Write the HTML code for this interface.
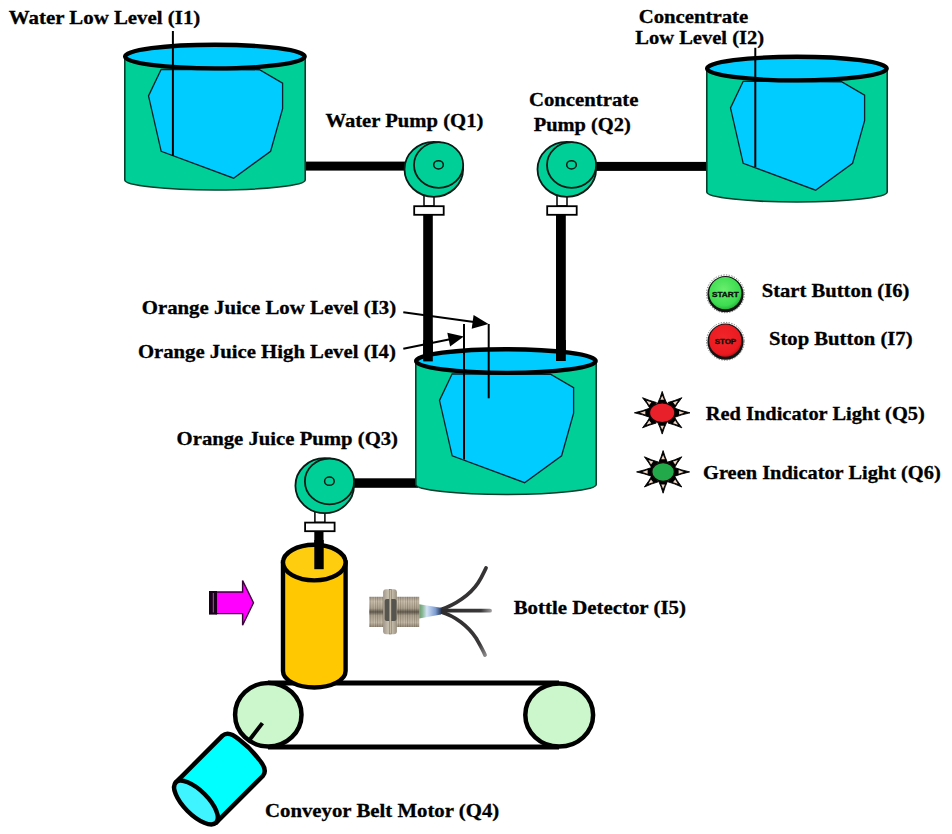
<!DOCTYPE html><html><head><meta charset="utf-8"><style>html,body{margin:0;padding:0;background:#fff;}svg{display:block}</style></head><body>
<svg width="952" height="834" viewBox="0 0 952 834">
<defs><linearGradient id="metal" x1="0" y1="0" x2="0" y2="1"><stop offset="0" stop-color="#9c9080"/><stop offset="0.15" stop-color="#c8bca8"/><stop offset="0.38" stop-color="#a89c88"/><stop offset="0.5" stop-color="#564e42"/><stop offset="0.62" stop-color="#a89c88"/><stop offset="0.85" stop-color="#c2b6a2"/><stop offset="1" stop-color="#8c8070"/></linearGradient><pattern id="thread" x="0" y="0" width="2.3" height="40" patternUnits="userSpaceOnUse"><rect x="0" y="0" width="1" height="40" fill="#5a5040" fill-opacity="0.3"/><rect x="1.2" y="0" width="0.8" height="40" fill="#fff" fill-opacity="0.15"/></pattern><linearGradient id="nut" x1="0" y1="0" x2="1" y2="0"><stop offset="0" stop-color="#a0968a"/><stop offset="0.5" stop-color="#d6cebe"/><stop offset="1" stop-color="#9a9080"/></linearGradient><linearGradient id="glass" x1="0" y1="0" x2="1" y2="0"><stop offset="0" stop-color="#6a9a6a"/><stop offset="0.15" stop-color="#8ab898"/><stop offset="0.35" stop-color="#d4e4f6"/><stop offset="0.75" stop-color="#7a9ad0"/><stop offset="1" stop-color="#2a3a5a"/></linearGradient><radialGradient id="gbtn" cx="0.45" cy="0.4" r="0.65"><stop offset="0" stop-color="#6aee6e"/><stop offset="0.75" stop-color="#3cdc50"/><stop offset="1" stop-color="#22a834"/></radialGradient><radialGradient id="rbtn" cx="0.45" cy="0.4" r="0.65"><stop offset="0" stop-color="#f2252a"/><stop offset="0.8" stop-color="#ea1a20"/><stop offset="1" stop-color="#b00a10"/></radialGradient><linearGradient id="cabU" gradientUnits="userSpaceOnUse" x1="441" y1="610" x2="486" y2="567"><stop offset="0" stop-color="#2e2c2c"/><stop offset="0.8" stop-color="#3a3838"/><stop offset="1" stop-color="#8a8888"/></linearGradient><linearGradient id="cabM" gradientUnits="userSpaceOnUse" x1="441" y1="610" x2="491" y2="610"><stop offset="0" stop-color="#2e2c2c"/><stop offset="0.8" stop-color="#3a3838"/><stop offset="1" stop-color="#9a9898"/></linearGradient><linearGradient id="cabL" gradientUnits="userSpaceOnUse" x1="441" y1="612" x2="485" y2="656"><stop offset="0" stop-color="#2e2c2c"/><stop offset="0.8" stop-color="#3a3838"/><stop offset="1" stop-color="#8a8888"/></linearGradient></defs>
<rect width="952" height="834" fill="#fff"/>
<rect x="300" y="161.6" width="108" height="9" fill="#000"/>
<rect x="590" y="161.9" width="120" height="9" fill="#000"/>
<rect x="423.2" y="214" width="9.6" height="147.4" fill="#000"/>
<rect x="556" y="214" width="9.8" height="147" fill="#000"/>
<rect x="350" y="478.3" width="68" height="9.5" fill="#000"/>
<rect x="314.3" y="530" width="9.2" height="38.5" fill="#000"/>
<g transform="translate(0,0)">
<path d="M124.8,56.6 L124.8,180 A90.2,10 0 0 0 305.2,180 L305.2,56.6 Z" fill="#00cf98" stroke="#06402c" stroke-width="1.6"/>
<polygon points="161.2,69.3 148.5,95.9 161.2,151.3 233.6,178.2 270.6,151.3 282.6,108.6 282.6,83.2 259.5,69.75" fill="#00ccff" stroke="#00202a" stroke-width="1.3"/>
<ellipse cx="214.9" cy="56.6" rx="89.8" ry="11.85" fill="#00ccff" stroke="#000" stroke-width="4.3"/>
</g>
<g transform="translate(582,12)">
<path d="M124.8,56.6 L124.8,180 A90.2,10 0 0 0 305.2,180 L305.2,56.6 Z" fill="#00cf98" stroke="#06402c" stroke-width="1.6"/>
<polygon points="161.2,69.3 148.5,95.9 161.2,151.3 233.6,178.2 270.6,151.3 282.6,108.6 282.6,83.2 259.5,69.75" fill="#00ccff" stroke="#00202a" stroke-width="1.3"/>
<ellipse cx="214.9" cy="56.6" rx="89.8" ry="11.85" fill="#00ccff" stroke="#000" stroke-width="4.3"/>
</g>
<g transform="translate(291,304.5)">
<path d="M124.8,56.6 L124.8,180 A90.2,10 0 0 0 305.2,180 L305.2,56.6 Z" fill="#00cf98" stroke="#06402c" stroke-width="1.6"/>
<polygon points="161.2,69.3 148.5,95.9 161.2,151.3 233.6,178.2 270.6,151.3 282.6,108.6 282.6,83.2 259.5,69.75" fill="#00ccff" stroke="#00202a" stroke-width="1.3"/>
<ellipse cx="214.9" cy="56.6" rx="89.8" ry="11.85" fill="#00ccff" stroke="#000" stroke-width="4.3"/>
</g>
<rect x="423.2" y="340" width="9.6" height="21.4" fill="#000"/>
<rect x="556" y="340" width="9.8" height="21" fill="#000"/>
<line x1="172.9" y1="31" x2="172.9" y2="156" stroke="#000" stroke-width="2"/>
<line x1="755.3" y1="47.8" x2="755.3" y2="167" stroke="#000" stroke-width="2"/>
<line x1="464" y1="324" x2="464" y2="459.5" stroke="#000" stroke-width="2"/>
<line x1="488.7" y1="324" x2="488.7" y2="398.3" stroke="#000" stroke-width="2"/>
<line x1="403.3" y1="312.3" x2="474" y2="322" stroke="#000" stroke-width="2"/>
<polygon points="488.5,323.9 473.6,315 471.7,328.8" fill="#000"/>
<line x1="403.3" y1="348.7" x2="450" y2="339.3" stroke="#000" stroke-width="2"/>
<polygon points="463.8,336.6 447.3,332.7 450.1,346.5" fill="#000"/>
<g transform="translate(0,0)">
<rect x="424" y="195" width="10" height="11" fill="#fff" stroke="#000" stroke-width="1.5"/>
<rect x="414.2" y="206.2" width="29.5" height="8.6" fill="#fff" stroke="#000" stroke-width="1.8"/>
<ellipse cx="433.8" cy="169.3" rx="29.3" ry="27.5" fill="#00cf98" stroke="#0a1a14" stroke-width="1.8"/>
<ellipse cx="438.6" cy="165" rx="24.6" ry="22.9" fill="#00cf98" stroke="#0a1a14" stroke-width="1.8"/>
<ellipse cx="438.5" cy="164.8" rx="4.8" ry="4.1" fill="#00cf98" stroke="#0a1a14" stroke-width="1.5"/>
</g>
<g transform="translate(133,0)">
<rect x="424" y="195" width="10" height="11" fill="#fff" stroke="#000" stroke-width="1.5"/>
<rect x="414.2" y="206.2" width="29.5" height="8.6" fill="#fff" stroke="#000" stroke-width="1.8"/>
<ellipse cx="433.8" cy="169.3" rx="29.3" ry="27.5" fill="#00cf98" stroke="#0a1a14" stroke-width="1.8"/>
<ellipse cx="438.6" cy="165" rx="24.6" ry="22.9" fill="#00cf98" stroke="#0a1a14" stroke-width="1.8"/>
<ellipse cx="438.5" cy="164.8" rx="4.8" ry="4.1" fill="#00cf98" stroke="#0a1a14" stroke-width="1.5"/>
</g>
<g transform="translate(-109.1,316.4)">
<rect x="424" y="195" width="10" height="11" fill="#fff" stroke="#000" stroke-width="1.5"/>
<rect x="414.2" y="206.2" width="29.5" height="8.6" fill="#fff" stroke="#000" stroke-width="1.8"/>
<ellipse cx="433.8" cy="169.3" rx="29.3" ry="27.5" fill="#00cf98" stroke="#0a1a14" stroke-width="1.8"/>
<ellipse cx="438.6" cy="165" rx="24.6" ry="22.9" fill="#00cf98" stroke="#0a1a14" stroke-width="1.8"/>
<ellipse cx="438.5" cy="164.8" rx="4.8" ry="4.1" fill="#00cf98" stroke="#0a1a14" stroke-width="1.5"/>
</g>
<circle cx="725.4" cy="293.8" r="18.9" fill="none" stroke="#555" stroke-width="0.8" stroke-dasharray="1.3 1.4"/>
<circle cx="725.5" cy="294.2" r="18.1" fill="#141414"/>
<circle cx="725.3" cy="293.2" r="16.1" fill="url(#gbtn)"/>
<text x="725.4" y="296.6" text-anchor="middle" font-family="Liberation Sans" font-weight="bold" font-size="8.0" fill="#071007" stroke="#071007" stroke-width="0.35" textLength="27" lengthAdjust="spacingAndGlyphs">START</text>
<circle cx="725.4" cy="341.3" r="18.9" fill="none" stroke="#555" stroke-width="0.8" stroke-dasharray="1.3 1.4"/>
<circle cx="725.5" cy="341.7" r="18.1" fill="#141414"/>
<circle cx="725.3" cy="340.7" r="16.1" fill="url(#rbtn)"/>
<text x="725.4" y="344.1" text-anchor="middle" font-family="Liberation Sans" font-weight="bold" font-size="8.0" fill="#071007" stroke="#071007" stroke-width="0.35" textLength="21.5" lengthAdjust="spacingAndGlyphs">STOP</text>
<g>
<path d="M674.4,417.4 Q681.4,414.6 690.0,412.8 Q681.4,410.9 674.4,408.1 Z" fill="#000" stroke="#000" stroke-width="0.9"/>
<polygon points="684.4,412.8 679.1,414.6 679.1,410.9" fill="#f0d6c2"/>
<path d="M668.0,423.0 Q674.6,424.7 681.9,427.8 Q676.9,421.7 673.6,415.7 Z" fill="#000" stroke="#000" stroke-width="0.9"/>
<polygon points="677.9,424.8 673.0,423.3 675.2,420.5" fill="#f0d6c2"/>
<path d="M657.6,422.1 Q660.3,427.5 662.2,434.1 Q664.1,427.5 666.8,422.1 Z" fill="#000" stroke="#000" stroke-width="0.9"/>
<polygon points="662.2,429.7 660.4,425.7 664.0,425.7" fill="#f0d6c2"/>
<path d="M650.8,415.7 Q647.5,421.7 642.5,427.8 Q649.8,424.7 656.4,423.0 Z" fill="#000" stroke="#000" stroke-width="0.9"/>
<polygon points="646.5,424.8 649.2,420.5 651.4,423.3" fill="#f0d6c2"/>
<path d="M650.0,408.1 Q643.0,410.9 634.4,412.8 Q643.0,414.6 650.0,417.4 Z" fill="#000" stroke="#000" stroke-width="0.9"/>
<polygon points="640.0,412.8 645.3,410.9 645.3,414.6" fill="#f0d6c2"/>
<path d="M656.4,402.5 Q649.8,400.8 642.5,397.7 Q647.5,403.8 650.8,409.8 Z" fill="#000" stroke="#000" stroke-width="0.9"/>
<polygon points="646.5,400.7 651.4,402.2 649.2,405.0" fill="#f0d6c2"/>
<path d="M666.8,403.4 Q664.1,398.0 662.2,391.4 Q660.3,398.0 657.6,403.4 Z" fill="#000" stroke="#000" stroke-width="0.9"/>
<polygon points="662.2,395.8 664.0,399.8 660.4,399.8" fill="#f0d6c2"/>
<path d="M673.6,409.8 Q676.9,403.8 681.9,397.7 Q674.6,400.8 668.0,402.5 Z" fill="#000" stroke="#000" stroke-width="0.9"/>
<polygon points="677.9,400.7 675.2,405.0 673.0,402.2" fill="#f0d6c2"/>
<ellipse cx="662.2" cy="412.75" rx="12.7" ry="9.85" fill="#e8202a" stroke="#140606" stroke-width="1.3"/>
</g>
<g>
<path d="M673.9,476.5 Q681.0,473.8 689.6,471.9 Q681.0,470.0 673.9,467.3 Z" fill="#000" stroke="#000" stroke-width="0.9"/>
<polygon points="683.9,471.9 678.6,473.7 678.6,470.1" fill="#f0d6c2"/>
<path d="M667.9,481.8 Q674.6,483.6 681.8,487.0 Q676.9,480.6 673.6,474.6 Z" fill="#000" stroke="#000" stroke-width="0.9"/>
<polygon points="677.8,483.8 673.0,482.2 675.2,479.4" fill="#f0d6c2"/>
<path d="M658.5,480.8 Q661.2,486.4 663.1,493.2 Q665.0,486.4 667.7,480.8 Z" fill="#000" stroke="#000" stroke-width="0.9"/>
<polygon points="663.1,488.7 661.3,484.5 664.9,484.5" fill="#f0d6c2"/>
<path d="M652.6,474.6 Q649.3,480.6 644.4,487.0 Q651.6,483.6 658.3,481.8 Z" fill="#000" stroke="#000" stroke-width="0.9"/>
<polygon points="648.4,483.8 651.0,479.4 653.2,482.2" fill="#f0d6c2"/>
<path d="M652.3,467.3 Q645.2,470.0 636.6,471.9 Q645.2,473.8 652.3,476.5 Z" fill="#000" stroke="#000" stroke-width="0.9"/>
<polygon points="642.3,471.9 647.6,470.1 647.6,473.7" fill="#f0d6c2"/>
<path d="M658.3,462.0 Q651.6,460.2 644.4,456.8 Q649.3,463.2 652.6,469.2 Z" fill="#000" stroke="#000" stroke-width="0.9"/>
<polygon points="648.4,460.0 653.2,461.6 651.0,464.4" fill="#f0d6c2"/>
<path d="M667.7,463.0 Q665.0,457.4 663.1,450.6 Q661.2,457.4 658.5,463.0 Z" fill="#000" stroke="#000" stroke-width="0.9"/>
<polygon points="663.1,455.1 664.9,459.3 661.3,459.3" fill="#f0d6c2"/>
<path d="M673.6,469.2 Q676.9,463.2 681.8,456.8 Q674.6,460.2 667.9,462.0 Z" fill="#000" stroke="#000" stroke-width="0.9"/>
<polygon points="677.8,460.0 675.2,464.4 673.0,461.6" fill="#f0d6c2"/>
<ellipse cx="663.1" cy="471.9" rx="11.3" ry="9.4" fill="#22aa4a" stroke="#140606" stroke-width="1.3"/>
</g>
<polygon points="216.2,592.0 242.6,592.0 242.6,580.6 253.5,602.8 242.6,625.3 242.6,613.6 216.2,613.6" fill="#ff00ff" stroke="#3a003a" stroke-width="1.4" stroke-linejoin="miter"/>
<rect x="209" y="591" width="8" height="23.6" fill="#1a001a"/>
<line x1="213.3" y1="593" x2="213.3" y2="612.5" stroke="#e080e0" stroke-width="0.7"/>
<line x1="268" y1="683" x2="559" y2="683" stroke="#000" stroke-width="5"/>
<line x1="268" y1="747" x2="559" y2="747" stroke="#000" stroke-width="4.8"/>
<ellipse cx="268.3" cy="714.7" rx="33.2" ry="31.8" fill="#ccf7cc" stroke="#000" stroke-width="4.5"/>
<ellipse cx="559.2" cy="715" rx="33.9" ry="31.6" fill="#ccf7cc" stroke="#000" stroke-width="4.5"/>
<path d="M283,562.5 L283,671 A31.3,16.5 0 0 0 345.6,671 L345.6,562.5 Z" fill="#ffc800" stroke="#000" stroke-width="4.4"/>
<ellipse cx="314.3" cy="562.6" rx="31.3" ry="17.8" fill="#ffcd10" stroke="#000" stroke-width="4.4"/>
<rect x="314.3" y="540" width="9.4" height="29.2" fill="#000"/>
<path d="M441,609.5 C455,605 470,595 478,583 C482,577 484,572 486,568" fill="none" stroke="#353333" stroke-width="3.8" stroke-linecap="round"/>
<path d="M441,610.7 L490,610.7" fill="none" stroke="url(#cabM)" stroke-width="3.8" stroke-linecap="round"/>
<path d="M441,612 C455,616 468,626 476,638 C480,645 483,650 485,655" fill="none" stroke="url(#cabL)" stroke-width="3.8" stroke-linecap="round"/>
<path d="M419.2,604.3 L441,607.7 L441,614.6 L419.2,618.6 Z" fill="url(#glass)"/>
<rect x="369.2" y="596.8" width="50" height="30.2" fill="url(#metal)"/>
<rect x="369.2" y="596.8" width="50" height="30.2" fill="url(#thread)"/>
<rect x="383.1" y="589.2" width="13.8" height="45" rx="3" fill="url(#nut)"/>
<rect x="384.7" y="599" width="11.8" height="22" rx="2" fill="#56544e"/>
<rect x="389.2" y="589.5" width="2" height="44.5" fill="#c9bfa8" stroke="#6a6250" stroke-width="0.5"/>
<line x1="262.4" y1="723.1" x2="249.6" y2="739.8" stroke="#000" stroke-width="4"/>
<g transform="translate(196,802.5) rotate(-45)">
<path d="M0,-28.5 L66,-28.5 Q74,-28 75,-14 Q77,0 75,14 Q74,28 66,28.5 L0,28.5 Z" fill="#00ffff" stroke="#000" stroke-width="4.5" stroke-linejoin="round"/>
<ellipse cx="0" cy="0" rx="12" ry="28.5" fill="#40f4ff" stroke="#000" stroke-width="4.5"/>
</g>
<text x="8.8" y="24.3" font-family="Liberation Serif" font-weight="bold" font-size="19" fill="#000" stroke="#000" stroke-width="0.3" textLength="191.5" lengthAdjust="spacingAndGlyphs">Water Low Level (I1)</text>
<text x="325.4" y="127.3" font-family="Liberation Serif" font-weight="bold" font-size="19" fill="#000" stroke="#000" stroke-width="0.3" textLength="158" lengthAdjust="spacingAndGlyphs">Water Pump (Q1)</text>
<text x="528.9" y="106.2" font-family="Liberation Serif" font-weight="bold" font-size="19" fill="#000" stroke="#000" stroke-width="0.3" textLength="109.5" lengthAdjust="spacingAndGlyphs">Concentrate</text>
<text x="533.7" y="130.7" font-family="Liberation Serif" font-weight="bold" font-size="19" fill="#000" stroke="#000" stroke-width="0.3" textLength="97" lengthAdjust="spacingAndGlyphs">Pump (Q2)</text>
<text x="638.7" y="22.9" font-family="Liberation Serif" font-weight="bold" font-size="19" fill="#000" stroke="#000" stroke-width="0.3" textLength="109.5" lengthAdjust="spacingAndGlyphs">Concentrate</text>
<text x="635.2" y="43.75" font-family="Liberation Serif" font-weight="bold" font-size="19" fill="#000" stroke="#000" stroke-width="0.3" textLength="129" lengthAdjust="spacingAndGlyphs">Low Level (I2)</text>
<text x="761.7" y="296.7" font-family="Liberation Serif" font-weight="bold" font-size="19" fill="#000" stroke="#000" stroke-width="0.3" textLength="147.7" lengthAdjust="spacingAndGlyphs">Start Button (I6)</text>
<text x="768.9" y="345.3" font-family="Liberation Serif" font-weight="bold" font-size="19" fill="#000" stroke="#000" stroke-width="0.3" textLength="143.7" lengthAdjust="spacingAndGlyphs">Stop Button (I7)</text>
<text x="141.7" y="313.5" font-family="Liberation Serif" font-weight="bold" font-size="19" fill="#000" stroke="#000" stroke-width="0.3" textLength="254.5" lengthAdjust="spacingAndGlyphs">Orange Juice Low Level (I3)</text>
<text x="137.9" y="358" font-family="Liberation Serif" font-weight="bold" font-size="19" fill="#000" stroke="#000" stroke-width="0.3" textLength="258" lengthAdjust="spacingAndGlyphs">Orange Juice High Level (I4)</text>
<text x="705.8" y="419.5" font-family="Liberation Serif" font-weight="bold" font-size="19" fill="#000" stroke="#000" stroke-width="0.3" textLength="219" lengthAdjust="spacingAndGlyphs">Red Indicator Light (Q5)</text>
<text x="703.1" y="478.7" font-family="Liberation Serif" font-weight="bold" font-size="19" fill="#000" stroke="#000" stroke-width="0.3" textLength="237.6" lengthAdjust="spacingAndGlyphs">Green Indicator Light (Q6)</text>
<text x="176.6" y="444.9" font-family="Liberation Serif" font-weight="bold" font-size="19" fill="#000" stroke="#000" stroke-width="0.3" textLength="221.4" lengthAdjust="spacingAndGlyphs">Orange Juice Pump (Q3)</text>
<text x="513.7" y="614.2" font-family="Liberation Serif" font-weight="bold" font-size="19" fill="#000" stroke="#000" stroke-width="0.3" textLength="172.2" lengthAdjust="spacingAndGlyphs">Bottle Detector (I5)</text>
<text x="265" y="817" font-family="Liberation Serif" font-weight="bold" font-size="19" fill="#000" stroke="#000" stroke-width="0.3" textLength="234.2" lengthAdjust="spacingAndGlyphs">Conveyor Belt Motor (Q4)</text>
</svg></body></html>
